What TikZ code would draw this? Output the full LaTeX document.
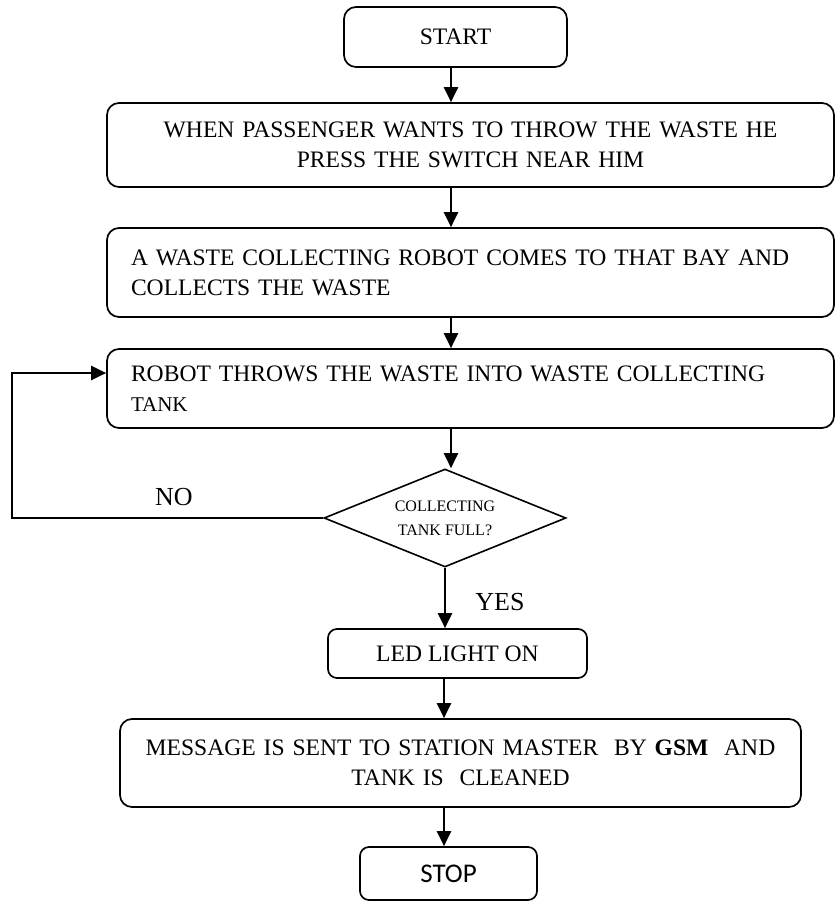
\documentclass[tikz,border=0pt]{standalone}
\usepackage{fontspec}
\setmainfont{Liberation Serif}
\newfontfamily\stopfont{Carlito}
\usetikzlibrary{shapes.geometric,arrows.meta}

\begin{document}
\begin{tikzpicture}[x=1pt,y=-1pt,
  box/.style={draw, line width=1.7pt, rounded corners=12pt, inner sep=0pt,
    font=\fontsize{23.6}{30}\selectfont},
  widebox/.style={box, minimum width=727pt, text width=679pt},
  decision/.style={draw, diamond, line width=1.6pt, inner sep=0pt,
    minimum width=242pt, minimum height=98pt, aspect=2.47, align=center,
    font=\fontsize{16}{24}\selectfont},
  flow/.style={line width=2.2pt, -{Triangle[length=15pt,width=14pt]}},
  lbl/.style={font=\fontsize{26}{30}\selectfont}]

\useasboundingbox (0,0) rectangle (835,902);

% process steps
\node[box, minimum width=223pt, minimum height=60pt] (start) at (455.5,37) {START};
\node[widebox, minimum height=84pt, align=center] (b2) at (470.5,145)
  {WHEN PASSENGER WANTS TO THROW THE WASTE HE\\PRESS THE SWITCH NEAR HIM};
\node[widebox, minimum height=89pt, align=left] (b3) at (470.5,272.5)
  {A WASTE COLLECTING ROBOT COMES TO THAT BAY AND\\COLLECTS THE WASTE};
\node[widebox, minimum height=79pt, align=left] (b4) at (470.5,388.5)
  {ROBOT THROWS THE WASTE INTO WASTE COLLECTING\\{\fontsize{21}{30}\selectfont TANK}};
\node[decision] (dia) at (445,518) {COLLECTING\\TANK FULL?};
\node[box, rounded corners=9pt, minimum width=259pt, minimum height=49pt] (led) at (457.5,653.5) {LED LIGHT ON};
\node[box, minimum width=681pt, text width=665pt, minimum height=88pt, align=center] (b5) at (460.5,763)
  {MESSAGE IS SENT TO STATION MASTER\ \ BY \textbf{GSM}\ \ AND\\TANK IS\ \ CLEANED};
\node[box, rounded corners=9pt, minimum width=177pt, minimum height=53pt,
  font=\stopfont\fontsize{27}{30}\selectfont] (stop) at (448.5,873.5) {STOP};

% branch labels
\node[lbl] (no) at (174,497) {NO};
\node[lbl] (yes) at (500,602) {YES};

% connector guides
\coordinate (spine) at (451,0);
\coordinate (spinelow) at (444,0);
\coordinate (lp) at (12,373);

% connectors
\draw[flow] (start.south -| spine) -- (b2.north -| spine);
\draw[flow] (b2.south -| spine) -- (b3.north -| spine);
\draw[flow] (b3.south -| spine) -- (b4.north -| spine);
\draw[flow] (b4.south -| spine) -- (dia.north -| spine);
\draw[flow] (dia.south) -- (led.north -| dia.south);
\draw[flow] (led.south -| spinelow) -- (b5.north -| spinelow);
\draw[flow] (b5.south -| spinelow) -- (stop.north -| spinelow);
\draw[flow] (dia.west) -| (lp) -- (lp -| b4.west);
\end{tikzpicture}
\end{document}
